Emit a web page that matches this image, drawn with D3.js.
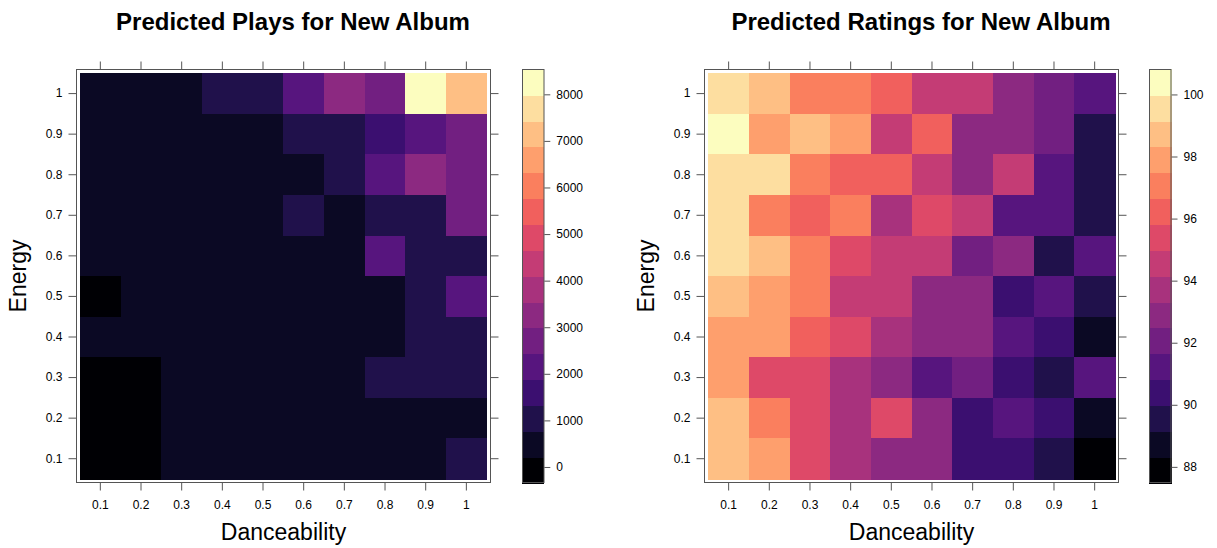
<!DOCTYPE html>
<html><head><meta charset="utf-8">
<script src="https://cdn.jsdelivr.net/npm/d3@7"></script>
<style>
body{margin:0;background:#fff}
svg{display:block}
text{font-family:"Liberation Sans",Arial,Helvetica,sans-serif}
</style>
</head><body>
<svg id="chart" width="1217" height="548"></svg>
<script>
// ---- data ----
const danceLabels = ["0.1","0.2","0.3","0.4","0.5","0.6","0.7","0.8","0.9","1"];
// energy levels, listed from top row (1) to bottom row (0.1)
const energyLabels = ["1","0.9","0.8","0.7","0.6","0.5","0.4","0.3","0.2","0.1"];

// predicted plays, rows = energy (1 -> 0.1), cols = danceability (0.1 -> 1)
const playsE10 = [420, 450, 480, 1050, 1100, 2150, 3250, 2700, 8537, 7150];
const playsE09 = [400, 420, 440, 460, 500, 1000, 1050, 1600, 2150, 2750];
const playsE08 = [380, 400, 420, 440, 460, 520, 1000, 2200, 3300, 2700];
const playsE07 = [350, 380, 400, 420, 450, 1000, 550, 1050, 1100, 2750];
const playsE06 = [330, 350, 380, 400, 420, 450, 500, 2150, 1050, 1000];
const playsE05 = [-344, 300, 330, 360, 380, 420, 450, 500, 1000, 2200];
const playsE04 = [300, 320, 340, 360, 380, 400, 450, 500, 1000, 1050];
const playsE03 = [-150, 100, 300, 330, 350, 380, 420, 1000, 1050, 1100];
const playsE02 = [-250, -50, 280, 300, 330, 350, 380, 420, 500, 550];
const playsE01 = [-300, -100, 290, 300, 320, 330, 360, 400, 480, 1050];

// predicted ratings, rows = energy (1 -> 0.1), cols = danceability (0.1 -> 1)
const ratingsE10 = [99.6, 98.7, 97.0, 97.1, 96.2, 94.6, 94.5, 92.9, 92.1, 91.2];
const ratingsE09 = [100.81, 97.9, 98.8, 97.9, 94.6, 96.3, 92.9, 92.8, 92.0, 89.6];
const ratingsE08 = [99.5, 99.6, 97.1, 96.2, 96.3, 94.5, 92.9, 94.6, 91.3, 89.5];
const ratingsE07 = [99.6, 97.0, 96.2, 97.1, 93.7, 95.4, 94.6, 91.2, 91.3, 89.6];
const ratingsE06 = [99.5, 98.8, 97.0, 95.4, 94.5, 94.6, 92.1, 92.9, 89.6, 91.2];
const ratingsE05 = [98.7, 97.9, 97.1, 94.6, 94.5, 92.9, 92.9, 90.4, 91.2, 89.5];
const ratingsE04 = [97.9, 97.8, 96.2, 95.4, 93.7, 92.9, 92.8, 91.2, 90.4, 88.7];
const ratingsE03 = [97.9, 95.4, 95.3, 93.7, 92.9, 91.2, 92.1, 90.4, 89.6, 91.3];
const ratingsE02 = [98.7, 97.0, 95.4, 93.7, 95.4, 92.9, 90.4, 91.2, 90.3, 88.7];
const ratingsE01 = [98.8, 97.9, 95.4, 93.8, 92.9, 92.8, 90.4, 90.4, 89.5, 87.48];

const playsTicks = [0, 1000, 2000, 3000, 4000, 5000, 6000, 7000, 8000];
const ratingsTicks = [88, 90, 92, 94, 96, 98, 100];
const nLevels = 16;

const playsRows = [playsE10, playsE09, playsE08, playsE07, playsE06, playsE05, playsE04, playsE03, playsE02, playsE01];
const ratingsRows = [ratingsE10, ratingsE09, ratingsE08, ratingsE07, ratingsE06, ratingsE05, ratingsE04, ratingsE03, ratingsE02, ratingsE01];

// ---- drawing ----
const svg = d3.select("#chart");
const palette = d3.range(nLevels).map(i => d3.interpolateMagma(i / (nLevels - 1)));
const LINE = "#555";
const TICKFONT = 12;

function styleAxis(sel, showText) {
  sel.select(".domain").remove();
  sel.selectAll(".tick line").attr("stroke", LINE);
  sel.selectAll(".tick text").attr("fill", "#000").attr("font-size", TICKFONT)
     .attr("font-family", "Liberation Sans, Arial, sans-serif");
  if (!showText) sel.selectAll(".tick text").remove();
}

function panel(o) {
  const g = svg.append("g");
  const vals = o.rows.flat();
  const [lo, hi] = d3.extent(vals);
  const color = d3.scaleQuantize().domain([lo, hi]).range(palette);

  const cellL = o.left, cellR = o.left + 406.7;
  const cellT = 73.3, cellB = 479;
  const x = d3.scaleBand().domain(danceLabels).range([cellL, cellR]);
  const y = d3.scaleBand().domain(energyLabels).range([cellT, cellB]);

  const cells = [];
  o.rows.forEach((row, r) => row.forEach((v, c) => cells.push({e: energyLabels[r], d: danceLabels[c], v})));
  g.append("g").attr("shape-rendering", "crispEdges")
    .selectAll("rect").data(cells).join("rect")
    .attr("x", d => x(d.d)).attr("y", d => y(d.e))
    .attr("width", x.bandwidth() + 0.5).attr("height", y.bandwidth() + 0.5)
    .attr("fill", d => color(d.v));

  const bL = Math.round(cellL - 4) + 0.5, bR = Math.round(cellR + 4) - 0.5;
  const bT = 69.5, bB = 482.5;
  g.append("rect").attr("x", bL).attr("y", bT).attr("width", bR - bL).attr("height", bB - bT)
    .attr("fill", "none").attr("stroke", LINE);

  g.append("g").attr("transform", `translate(0,${bB})`)
    .call(d3.axisBottom(x).tickSize(8).tickPadding(10).tickSizeOuter(0)).call(s => styleAxis(s, true));
  g.append("g").attr("transform", `translate(0,${bT})`)
    .call(d3.axisTop(x).tickSize(8).tickSizeOuter(0)).call(s => styleAxis(s, false));
  g.append("g").attr("transform", `translate(${bL},0)`)
    .call(d3.axisLeft(y).tickSize(8).tickPadding(6).tickSizeOuter(0)).call(s => styleAxis(s, true));
  g.append("g").attr("transform", `translate(${bR},0)`)
    .call(d3.axisRight(y).tickSize(8).tickSizeOuter(0)).call(s => styleAxis(s, false));

  // colour key
  const kx = o.keyX, kw = 22.5;
  const ky = d3.scaleLinear().domain([lo, hi]).range([483, 69.3]);
  const step = (hi - lo) / nLevels;
  const bins = d3.range(nLevels).map(i => ({a: lo + i * step, b: lo + (i + 1) * step, c: palette[i]}));
  g.append("g").attr("shape-rendering", "crispEdges")
    .selectAll("rect").data(bins).join("rect")
    .attr("x", kx).attr("y", d => ky(d.b)).attr("width", kw).attr("height", d => ky(d.a) - ky(d.b) + 0.5)
    .attr("fill", d => d.c);
  g.append("rect").attr("x", Math.round(kx) + 0.5).attr("y", 69.5).attr("width", kw - 1).attr("height", 413)
    .attr("fill", "none").attr("stroke", LINE);
  g.append("g").attr("transform", `translate(${kx + kw},0)`)
    .call(d3.axisRight(ky).tickValues(o.ticks).tickSize(6).tickPadding(6).tickFormat(d3.format("d")))
    .call(s => styleAxis(s, true));

  // titles and axis labels
  svg.append("text").attr("x", o.titleX).attr("y", 30).attr("text-anchor", "middle")
    .attr("font-size", 24).attr("font-weight", "bold").text(o.title);
  svg.append("text").attr("x", (bL + bR) / 2).attr("y", 540).attr("text-anchor", "middle")
    .attr("font-size", 23).text("Danceability");
  svg.append("text").attr("transform", `translate(${bL - 51},${(bT + bB) / 2}) rotate(-90)`)
    .attr("text-anchor", "middle").attr("font-size", 23).text("Energy");
}

panel({title: "Predicted Plays for New Album", titleX: 293, rows: playsRows, ticks: playsTicks, left: 80, keyX: 521.8});
panel({title: "Predicted Ratings for New Album", titleX: 921, rows: ratingsRows, ticks: ratingsTicks, left: 708.3, keyX: 1149});
</script>
</body></html>
